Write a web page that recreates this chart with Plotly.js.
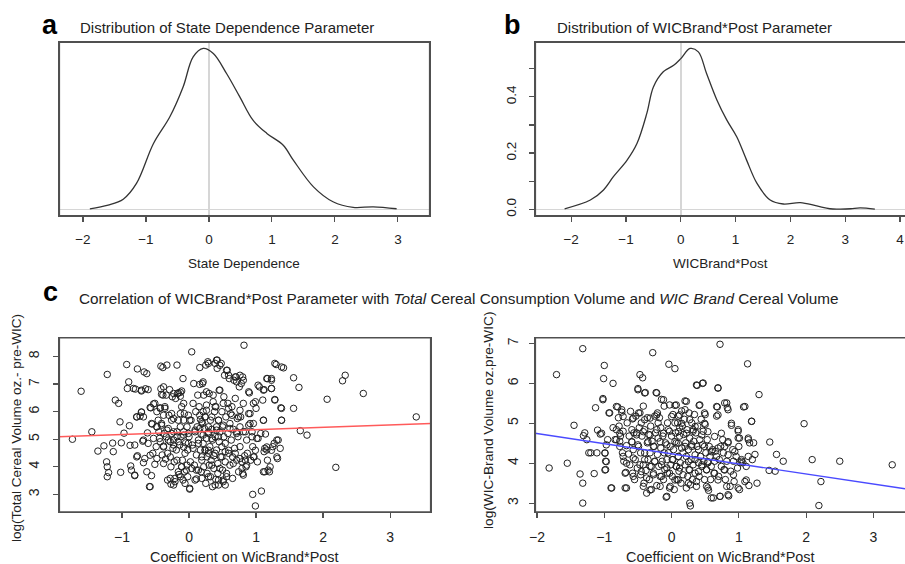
<!DOCTYPE html>
<html><head><meta charset="utf-8">
<script src="https://cdn.plot.ly/plotly-3.0.1.min.js"></script>
<style>html,body{margin:0;padding:0;background:#fff}#chart{width:905px;height:564px}</style>
</head><body><div id="chart"></div>
<script>
// Panel a: density of State Dependence parameter
const densA_x = [-1.89,-1.6,-1.36,-1.15,-0.88,-0.62,-0.41,-0.25,-0.09,0.07,0.28,0.49,0.70,0.92,1.18,1.34,1.66,1.97,2.29,2.61,2.98];
const densA_y = [0.002,0.015,0.036,0.092,0.234,0.329,0.435,0.542,0.572,0.554,0.483,0.400,0.317,0.270,0.228,0.175,0.080,0.027,0.007,0.009,0.002];
// Panel b: density of WICBrand*Post parameter
const densB_x = [-2.12,-1.65,-1.41,-1.23,-0.98,-0.80,-0.62,-0.50,-0.32,-0.13,0.0,0.17,0.32,0.47,0.66,0.84,1.02,1.20,1.39,1.63,1.87,2.18,2.48,2.72,2.9,3.1,3.27,3.54];
const densB_y = [0.002,0.033,0.069,0.116,0.175,0.234,0.341,0.435,0.489,0.512,0.536,0.572,0.560,0.483,0.388,0.317,0.258,0.175,0.092,0.033,0.019,0.024,0.012,0.002,0.001,0.002,0.005,0.001];
const tickB_y = [0,0.1,0.2,0.3,0.4,0.5];
const tickB_text = ['0.0','','0.2','','0.4',''];

// Panel c (left): coefficient vs log total cereal volume
const coefTotal = [-1.74,-1.61,-1.45,-1.36,-1.27,-1.22,-1.23,-1.22,-1.22,-1.20,-1.14,-1.13,-1.10,-1.05,-1.03,-1.02,-1.01,-0.97,-0.93,-0.92,-0.90,-0.89,-0.88,-0.87,-0.86,-0.80,-0.78,-0.81,-0.77,-0.77,-0.73,-0.71,-0.71,-0.69,-0.68,-0.67,-0.65,-0.63,-0.62,-0.61,-0.59,-0.57,-0.56,-0.55,-0.54,-0.53,-0.51,-0.49,-0.48,-0.48,-0.46,-0.45,-0.44,-0.43,-0.42,-0.42,-0.41,-0.40,-0.39,-0.39,-0.38,-0.37,-0.36,-0.35,-0.34,-0.33,-0.32,-0.32,-0.31,-0.30,-0.29,-0.28,-0.27,-0.27,-0.26,-0.25,-0.24,-0.23,-0.23,-0.22,-0.21,-0.20,-0.19,-0.18,-0.18,-0.17,-0.16,-0.16,-0.15,-0.14,-0.13,-0.13,-0.12,-0.11,-0.11,-0.10,-0.09,-0.09,-0.08,-0.07,-0.07,-0.06,-0.05,-0.04,-0.03,-0.02,-0.02,-0.01,0.0,0.01,0.02,0.03,0.04,0.05,0.06,0.07,0.08,0.09,0.10,0.11,0.11,0.12,0.13,0.14,0.14,0.15,0.16,0.16,0.17,0.17,0.18,0.18,0.19,0.20,0.20,0.21,0.21,0.22,0.22,0.23,0.24,0.24,0.25,0.25,0.26,0.26,0.27,0.27,0.28,0.29,0.29,0.30,0.30,0.31,0.32,0.32,0.33,0.34,0.35,0.35,0.36,0.37,0.37,0.38,0.39,0.39,0.40,0.40,0.41,0.41,0.42,0.42,0.43,0.43,0.44,0.44,0.45,0.45,0.46,0.47,0.48,0.49,0.49,0.50,0.50,0.51,0.52,0.52,0.53,0.54,0.54,0.55,0.56,0.57,0.58,0.58,0.59,0.60,0.61,0.61,0.62,0.63,0.64,0.65,0.65,0.66,0.67,0.68,0.69,0.70,0.71,0.71,0.72,0.73,0.74,0.75,0.76,0.76,0.77,0.78,0.79,0.80,0.80,0.81,0.82,0.83,0.84,0.85,0.86,0.87,0.89,0.90,0.91,0.92,0.94,0.95,0.95,0.96,0.97,0.99,0.99,1.00,1.01,1.02,1.05,1.07,1.08,1.10,1.11,1.12,1.12,1.13,1.14,1.16,1.17,1.17,1.20,1.21,1.23,1.23,1.25,1.27,1.28,1.30,1.32,1.33,1.36,1.37,1.38,1.41,1.56,1.56,1.64,1.66,1.76,2.06,2.19,2.29,2.33,2.60,3.39,
  0.21,-0.83,-0.71,-0.61,-0.38,-0.41,-0.34,-0.23,-0.16,-0.11,-0.13,-0.08,-0.51,-0.43,-0.36,-0.38,-0.58,-0.71,-0.78,-0.68,-0.26,-0.23,-0.13,-0.08,0.01,0.16,0.19,0.24,0.26,-0.56,-0.48,-0.41,-0.33,-0.26,-0.18,-0.08,-0.01,0.09,0.16,0.21,0.29,-0.68,-0.81,-0.53,-0.43,-0.38,-0.31,-0.23,-0.16,-0.08,-0.01,0.06,0.14,0.24,0.19,-0.78,-0.66,-0.58,-0.48,-0.38,-0.28,-0.18,-0.11,-0.03,0.04,0.11,-0.81,-0.63,-0.28,-0.21,-0.13,-0.06,0.09,0.19,-0.58,-0.23,0.01,
  0.29,0.41,0.46,0.56,0.59,0.69,0.76,0.81,0.71,1.28,1.38,1.03,1.16,1.23,1.11,1.23,0.26,0.36,0.46,0.89,0.96,0.89,1.11,1.28,1.38,1.38,0.39,0.51,0.59,0.64,0.74,0.76,0.34,0.44,0.51,0.29,0.41,0.61,0.71,0.81,0.91,0.94,1.03,1.31,0.34,0.44,0.54,0.29,0.39,0.49,0.59,0.69,0.76,0.84,0.96,0.99,1.13,1.16,1.23,1.31,0.34,0.46,0.56,0.29,0.44,0.66,0.79,0.86,0.81,1.11,1.18,0.39,0.51,0.54];
const logTotal = [5.0,6.74,5.27,4.57,4.76,7.35,4.18,4.0,3.64,3.79,4.86,4.55,6.42,6.3,5.63,3.8,4.87,5.22,7.71,6.84,7.08,5.49,4.78,4.03,3.88,6.82,5.81,3.68,7.55,4.4,5.84,5.98,6.78,4.93,4.15,7.44,6.83,7.38,5.23,4.85,3.28,6.14,3.68,5.55,4.49,6.28,4.09,4.73,6.0,5.45,5.69,5.27,5.03,6.14,7.65,6.83,5.57,4.43,7.6,6.6,4.75,5.21,6.18,4.28,5.09,7.69,3.52,4.49,5.39,5.87,6.80,4.91,4.0,3.37,5.69,6.54,4.67,4.97,5.27,4.18,3.58,6.48,4.61,7.69,5.09,6.66,3.82,5.69,3.72,4.79,6.70,5.45,5.09,4.0,6.18,4.24,7.2,3.52,5.27,3.82,5.93,4.49,4.87,3.88,5.45,3.64,4.61,5.87,5.09,3.19,4.18,5.69,8.17,4.79,6.30,7.02,4.06,5.27,6.0,4.43,3.56,5.45,6.60,4.97,3.88,6.18,6.99,7.60,5.72,4.61,5.19,3.82,4.24,5.57,7.02,4.85,6.0,6.60,4.0,5.39,5.81,4.61,3.40,7.69,5.03,6.24,4.36,3.76,7.81,5.21,4.49,6.66,4.06,4.73,3.64,5.69,4.24,5.36,3.28,4.97,6.36,4.40,3.94,6.0,5.09,7.75,6.18,3.54,5.45,4.61,7.87,7.57,4.12,3.76,3.34,5.69,4.91,6.78,5.27,4.36,7.75,4.73,6.0,3.88,5.45,3.52,6.54,5.09,7.32,4.18,4.55,5.81,3.64,7.50,5.21,6.30,4.49,7.2,4.06,5.57,5.93,4.97,6.18,3.58,4.36,5.36,7.14,4.67,6.48,7.26,4.24,5.21,5.75,5.09,3.82,6.90,4.73,5.45,5.81,7.02,4.18,7.26,3.76,6.30,8.41,4.40,5.27,4.0,4.97,4.49,5.51,6.68,5.93,4.24,5.27,3.0,4.73,5.57,4.36,6.36,2.58,6.12,5.03,4.18,6.90,5.21,3.12,6.42,5.69,6.80,4.55,3.82,5.19,4.61,7.2,4.24,3.82,4.0,7.2,6.84,4.73,4.85,6.44,7.71,4.30,4.97,4.67,6.14,5.69,7.59,7.23,6.12,6.88,5.31,5.15,6.45,3.98,7.12,7.32,6.66,5.81,
  7.08,6.84,6.75,6.80,6.9,6.63,6.6,6.66,6.68,6.75,6.56,6.30,6.30,6.12,6.12,5.87,6.15,5.99,5.81,5.81,5.93,5.75,5.93,5.69,5.69,5.87,5.63,5.81,6.05,5.57,5.45,5.51,5.33,5.21,5.27,5.15,5.21,5.33,5.39,5.15,5.27,4.97,4.79,5.03,4.91,4.72,4.97,4.79,4.91,4.72,4.85,4.67,4.85,4.60,4.36,4.36,4.30,4.42,4.30,4.12,4.36,4.24,4.0,4.06,3.94,3.88,3.70,3.82,3.58,3.46,3.64,3.40,3.52,3.58,3.28,3.34,3.22,
  7.75,7.87,7.68,7.50,7.32,7.26,7.32,7.14,7.08,7.75,7.62,6.96,7.2,7.14,6.78,6.84,6.72,6.60,6.78,6.72,6.30,5.93,5.69,6.42,6.12,5.69,6.18,6.30,6.12,5.87,5.81,6.05,5.81,5.69,5.51,5.45,5.33,5.39,5.27,5.27,5.57,5.09,5.03,4.97,5.03,5.09,4.85,4.60,4.49,4.36,4.60,4.49,4.30,4.24,4.36,4.60,4.67,4.72,4.60,4.36,4.06,3.94,3.76,3.64,3.52,4.12,3.94,4.06,3.70,3.82,3.88,3.34,3.46,3.34];
const fitTotal = [5.258, 0.0865];   // intercept, slope

// Panel c (right): coefficient vs log WIC-brand volume
const coefWic = [-1.82,-1.71,-1.55,-1.45,-1.36,-1.32,-1.32,-1.32,-1.31,-1.29,-1.26,-1.23,-1.20,-1.15,-1.13,-1.11,-1.10,-1.06,-1.02,-1.01,-1.00,-0.99,-0.98,-0.98,-0.95,-0.93,-0.90,-0.87,-0.87,-0.82,-0.80,-0.79,-0.78,-0.77,-0.76,-0.74,-0.73,-0.72,-0.71,-0.69,-0.68,-0.67,-0.66,-0.64,-0.63,-0.62,-0.61,-0.59,-0.58,-0.58,-0.57,-0.56,-0.55,-0.54,-0.53,-0.52,-0.51,-0.50,-0.49,-0.49,-0.48,-0.47,-0.46,-0.46,-0.45,-0.44,-0.43,-0.42,-0.42,-0.41,-0.40,-0.40,-0.39,-0.38,-0.37,-0.36,-0.36,-0.35,-0.34,-0.33,-0.32,-0.31,-0.30,-0.30,-0.29,-0.28,-0.27,-0.26,-0.25,-0.25,-0.24,-0.23,-0.22,-0.21,-0.21,-0.20,-0.19,-0.18,-0.17,-0.16,-0.16,-0.15,-0.14,-0.13,-0.12,-0.11,-0.11,-0.10,-0.09,-0.08,-0.07,-0.06,-0.06,-0.05,-0.04,-0.03,-0.02,-0.02,-0.01,0.0,0.01,0.01,0.02,0.03,0.04,0.05,0.05,0.06,0.07,0.07,0.08,0.09,0.10,0.10,0.11,0.12,0.12,0.13,0.14,0.15,0.15,0.16,0.17,0.17,0.18,0.19,0.20,0.20,0.21,0.22,0.22,0.23,0.24,0.25,0.26,0.26,0.27,0.28,0.28,0.29,0.30,0.30,0.31,0.32,0.32,0.33,0.34,0.35,0.35,0.36,0.37,0.38,0.38,0.39,0.40,0.41,0.41,0.42,0.43,0.44,0.45,0.46,0.46,0.47,0.48,0.49,0.50,0.50,0.51,0.52,0.53,0.54,0.54,0.55,0.56,0.57,0.58,0.59,0.61,0.62,0.63,0.64,0.65,0.67,0.68,0.69,0.70,0.71,0.72,0.72,0.73,0.74,0.76,0.77,0.78,0.79,0.80,0.82,0.83,0.84,0.85,0.87,0.88,0.89,0.91,0.92,0.93,0.96,0.98,0.99,1.00,1.01,1.01,1.02,1.04,1.06,1.07,1.09,1.11,1.13,1.14,1.15,1.16,1.19,1.20,1.22,1.24,1.27,1.30,1.45,1.46,1.54,1.56,1.66,1.97,2.09,2.19,2.22,2.50,3.28,
  -0.50,-0.40,-0.22,-0.12,-0.03,-1.02,-0.92,-0.82,-0.74,-0.72,-0.57,-0.47,-0.40,-0.32,-0.22,-0.20,0.0,0.05,-1.04,-0.82,-0.77,-0.59,-0.52,-0.42,-0.32,-0.22,-0.12,-0.05,-0.97,-0.84,-0.77,-0.59,-0.50,-0.35,-0.27,-0.17,-0.07,0.05,-0.99,-0.97,-0.99,-0.72,-0.67,-0.57,-0.47,-0.40,-0.32,-0.25,-0.15,-0.07,0.02,0.07,-0.69,-0.57,-0.45,-0.37,-0.27,-0.15,-0.03,0.05,-0.42,-0.32,-0.17,-0.03,-0.89,-0.67,-0.07,
  0.37,0.47,0.69,0.07,0.22,0.20,0.42,0.49,0.67,0.69,0.82,0.84,1.09,0.12,0.27,0.15,0.35,0.49,0.89,1.19,0.10,0.22,0.32,0.45,0.54,0.64,0.74,0.84,0.99,0.99,1.14,0.10,0.20,0.30,0.40,0.49,0.59,0.69,0.79,0.67,0.84,0.94,1.04,1.14,0.10,0.25,0.35,0.45,0.54,0.12,0.27,0.40,0.52,0.64,0.79,0.92,0.10,0.25,0.37,0.52,0.69,0.82,0.99,1.11,0.27,0.59,0.72,0.84];
const logWic = [3.88,6.22,4.0,4.95,3.73,6.87,3.50,3.0,4.69,4.76,4.59,4.26,4.26,3.74,5.39,4.26,4.83,4.73,5.62,6.12,6.45,4.26,4.05,3.84,4.59,5.26,3.38,6.0,4.89,4.59,5.41,5.14,4.93,4.55,4.68,5.28,4.26,4.80,4.05,3.38,3.77,4.44,5.01,4.23,4.68,3.96,5.30,4.53,3.75,5.11,4.34,4.76,3.59,4.09,5.18,4.76,3.88,5.87,5.26,4.42,4.89,6.22,3.71,4.26,5.01,4.68,6.14,3.96,5.43,3.50,4.26,4.84,5.77,3.82,3.25,4.51,5.14,4.09,4.72,3.59,4.26,4.93,3.92,3.34,4.55,6.77,3.75,4.42,5.18,4.05,4.76,5.77,3.44,5.26,4.22,4.63,3.92,5.14,3.67,4.38,4.89,5.60,4.05,4.68,3.59,4.26,5.43,3.84,4.51,3.15,4.09,5.01,3.75,4.26,6.48,4.80,3.42,4.42,3.96,4.68,3.67,4.09,5.22,4.34,3.34,5.45,6.37,4.76,3.92,4.51,3.59,5.01,4.17,5.18,3.80,4.68,4.89,4.01,3.50,5.31,4.38,4.93,3.71,4.26,4.72,5.10,3.96,5.56,4.51,3.38,4.17,4.84,3.67,4.34,5.26,3.84,4.63,2.93,3.46,4.09,5.01,4.42,3.59,4.80,3.96,4.55,5.22,3.75,4.21,4.76,3.42,5.95,4.42,4.93,4.01,5.45,3.67,4.59,4.17,5.10,3.92,6.0,4.46,4.80,4.05,3.59,5.22,4.97,4.26,3.84,4.59,3.38,4.01,3.32,4.42,4.17,3.59,3.92,4.34,3.13,3.75,4.05,4.30,5.18,5.41,5.89,3.67,4.09,3.17,6.98,4.42,3.92,4.59,4.26,3.84,5.51,3.59,4.05,5.39,4.51,3.18,3.42,3.80,4.95,4.34,4.05,3.54,4.17,3.88,4.80,4.42,3.34,4.63,4.01,4.05,4.01,5.41,3.54,3.92,6.49,4.63,3.44,4.51,5.05,4.09,4.51,4.22,3.50,5.72,3.82,4.53,3.80,4.22,4.05,4.99,4.09,2.94,3.54,4.05,3.96,
  5.84,5.76,5.76,5.59,5.46,5.59,5.26,5.42,5.34,5.17,5.13,5.26,5.09,5.13,5.21,5.01,5.17,5.01,4.75,4.84,4.75,4.84,4.71,4.79,4.71,4.84,4.75,4.84,4.46,4.59,4.42,4.54,4.46,4.54,4.42,4.54,4.46,4.54,4.25,4.04,3.83,4.17,4.0,4.13,3.96,4.09,3.92,4.04,3.96,3.88,4.09,3.92,3.75,3.67,3.79,3.63,3.71,3.67,3.75,3.58,3.42,3.33,3.42,3.38,3.38,3.38,3.17,
  5.96,6.01,5.88,5.46,5.55,5.34,5.46,5.26,5.42,5.21,5.51,5.34,5.42,5.21,5.09,5.0,4.92,5.0,5.0,5.05,4.79,4.75,4.84,4.71,4.79,4.67,4.75,4.54,4.84,4.63,4.59,4.50,4.42,4.46,4.34,4.42,4.29,4.38,4.42,4.17,4.21,4.29,4.09,4.17,4.17,4.04,4.09,3.96,4.04,3.88,3.83,3.79,3.83,3.75,3.83,3.71,3.58,3.50,3.54,3.42,3.58,3.42,3.38,3.58,3.0,3.13,3.17,3.21];
const fitWic = [4.236, -0.253];     // intercept, slope

const rangeA = [-2.38, 3.51], rangeB = [-2.66, 4.09];
const rangeC1 = [-1.94, 3.61], rangeC2 = [-2.03, 3.47];
const yRangeA = [-0.0237, 0.595], yRangeB = [-0.0237, 0.595];
const yRangeC1 = [2.35, 8.69], yRangeC2 = [2.77, 7.15];
const W = 905, H = 564;
const FONT = 'Liberation Sans, Arial, sans-serif';
const px = v => v / W, py = v => 1 - v / H;
const FRAME = '#505050';

function axis(domain, range, opts) {
  return Object.assign({
    domain: domain, range: range, showline: true, linecolor: FRAME, linewidth: 1, mirror: true,
    ticks: 'outside', ticklen: 5, tickcolor: FRAME, tickwidth: 1.2,
    tickfont: {family: FONT, size: 13.5, color: '#222'}, showgrid: false, zeroline: false,
    fixedrange: true, ticklabelstandoff: 6
  }, opts || {});
}
function fitLine(fit, range) {
  return {x: range, y: range.map(v => fit[0] + fit[1] * v)};
}
// plot-region frame (R's box()) traced along the axis ranges (inner half visible)
function frameTrace(xr, yr, closed, xa, ya) {
  const x = closed ? [xr[0], xr[1], xr[1], xr[0], xr[0]] : [xr[1], xr[0], xr[0], xr[1]];
  const y = closed ? [yr[0], yr[0], yr[1], yr[1], yr[0]] : [yr[1], yr[1], yr[0], yr[0]];
  return {type: 'scatter', mode: 'lines', x: x, y: y, xaxis: xa, yaxis: ya,
          line: {color: FRAME, width: 2.2}, hoverinfo: 'skip'};
}

const lineC1 = fitLine(fitTotal, rangeC1);
const lineC2 = fitLine(fitWic, rangeC2);

const dens = {type: 'scatter', mode: 'lines', line: {color: '#333', width: 1.3, shape: 'spline', smoothing: 1}, hoverinfo: 'skip'};
const mk = {symbol: 'circle-open', size: 6.5, color: '#222', line: {width: 1, color: '#222'}};

const traces = [
  Object.assign({x: densA_x, y: densA_y, xaxis: 'x', yaxis: 'y'}, dens),
  Object.assign({x: densB_x, y: densB_y, xaxis: 'x2', yaxis: 'y2'}, dens),
  {type: 'scatter', mode: 'markers', x: coefTotal, y: logTotal, xaxis: 'x3', yaxis: 'y3', marker: mk},
  {type: 'scatter', mode: 'lines', x: lineC1.x, y: lineC1.y, xaxis: 'x3', yaxis: 'y3', line: {color: '#ff5a5a', width: 1.4}},
  {type: 'scatter', mode: 'markers', x: coefWic, y: logWic, xaxis: 'x4', yaxis: 'y4', marker: mk},
  {type: 'scatter', mode: 'lines', x: lineC2.x, y: lineC2.y, xaxis: 'x4', yaxis: 'y4', line: {color: '#4a4aff', width: 1.4}},
  frameTrace(rangeA, yRangeA, true, 'x', 'y'),
  frameTrace(rangeB, yRangeB, false, 'x2', 'y2'),
  frameTrace(rangeC1, yRangeC1, true, 'x3', 'y3'),
  frameTrace(rangeC2, yRangeC2, false, 'x4', 'y4')
];

const dA = [59, 430], dB = [535, 905], dC1 = [59, 431], dC2 = [535, 905];
const vTop = [42, 216], vBot = [337.5, 512.3];
const yTopDom = [py(vTop[1]), py(vTop[0])];
const yBotDom = [py(vBot[1]), py(vBot[0])];
const zl = {zeroline: true, zerolinecolor: '#d6d6d6', zerolinewidth: 1.5};

const tf14 = {family: FONT, size: 14, color: '#222'};
const layout = {
  width: W, height: H, margin: {l: 0, r: 0, t: 0, b: 0},
  paper_bgcolor: '#fff', plot_bgcolor: 'rgba(0,0,0,0)', showlegend: false,
  font: {family: FONT, color: '#222'},
  xaxis: axis([px(dA[0]), px(dA[1])], rangeA, Object.assign({anchor: 'y', tickvals: [-2,-1,0,1,2,3]}, zl)),
  yaxis: axis(yTopDom, yRangeA, Object.assign({anchor: 'x', ticks: '', showticklabels: false}, zl)),
  xaxis2: axis([px(dB[0]), 1], rangeB, Object.assign({anchor: 'y2', tickvals: [-2,-1,0,1,2,3,4]}, zl)),
  yaxis2: axis(yTopDom, yRangeB, Object.assign({anchor: 'x2', mirror: false, tickvals: tickB_y, ticktext: tickB_text, tickangle: -90, ticklabelstandoff: 8}, zl)),
  xaxis3: axis([px(dC1[0]), px(dC1[1])], rangeC1, {anchor: 'y3', tickvals: [-1,0,1,2,3], tickfont: tf14, ticklabelstandoff: 7}),
  yaxis3: axis(yBotDom, yRangeC1, {anchor: 'x3', tickvals: [3,4,5,6,7,8], tickangle: -90, ticklabelstandoff: 8, tickfont: tf14}),
  xaxis4: axis([px(dC2[0]), 1], rangeC2, {anchor: 'y4', tickvals: [-2,-1,0,1,2,3], tickfont: tf14, ticklabelstandoff: 7}),
  yaxis4: axis(yBotDom, yRangeC2, {anchor: 'x4', mirror: false, tickvals: [3,4,5,6,7], tickangle: -90, ticklabelstandoff: 5, tickfont: tf14}),
  annotations: [
    {text: '<b>a</b>', x: px(50), y: py(25), font: {size: 27, family: FONT, color: '#000'}},
    {text: 'Distribution of State Dependence Parameter', x: px(78), y: py(28), xanchor: 'left', font: {size: 15}},
    {text: '<b>b</b>', x: px(512), y: py(25), font: {size: 27, family: FONT, color: '#000'}},
    {text: 'Distribution of WICBrand*Post Parameter', x: px(555), y: py(28), xanchor: 'left', font: {size: 15}},
    {text: 'State Dependence', x: px(244), y: py(263), font: {size: 13.5}},
    {text: 'WICBrand*Post', x: px(720), y: py(263), font: {size: 13.5}},
    {text: '<b>c</b>', x: px(50), y: py(292), font: {size: 27, family: FONT, color: '#000'}},
    {text: 'Correlation of WICBrand*Post Parameter with <i>Total</i> Cereal Consumption Volume and <i>WIC Brand</i> Cereal Volume', x: px(77), y: py(298), xanchor: 'left', font: {size: 15.3}},
    {text: 'Coefficient on WicBrand*Post', x: px(245), y: py(557), font: {size: 14.4}},
    {text: 'Coefficient on WicBrand*Post', x: px(720), y: py(557), font: {size: 14.4}},
    {text: 'log(Total Cereal Volume oz.- pre-WIC)', x: px(16), y: py(428), textangle: -90, font: {size: 13.5}},
    {text: 'log(WIC-Brand Volume oz.pre-WIC)', x: px(488), y: py(420), textangle: -90, font: {size: 13.7}}
  ].map(a => Object.assign({xref: 'paper', yref: 'paper', showarrow: false, xanchor: 'center', yanchor: 'middle'}, a))
};

Plotly.newPlot('chart', traces, layout, {staticPlot: true, displayModeBar: false});
</script>
</body></html>
